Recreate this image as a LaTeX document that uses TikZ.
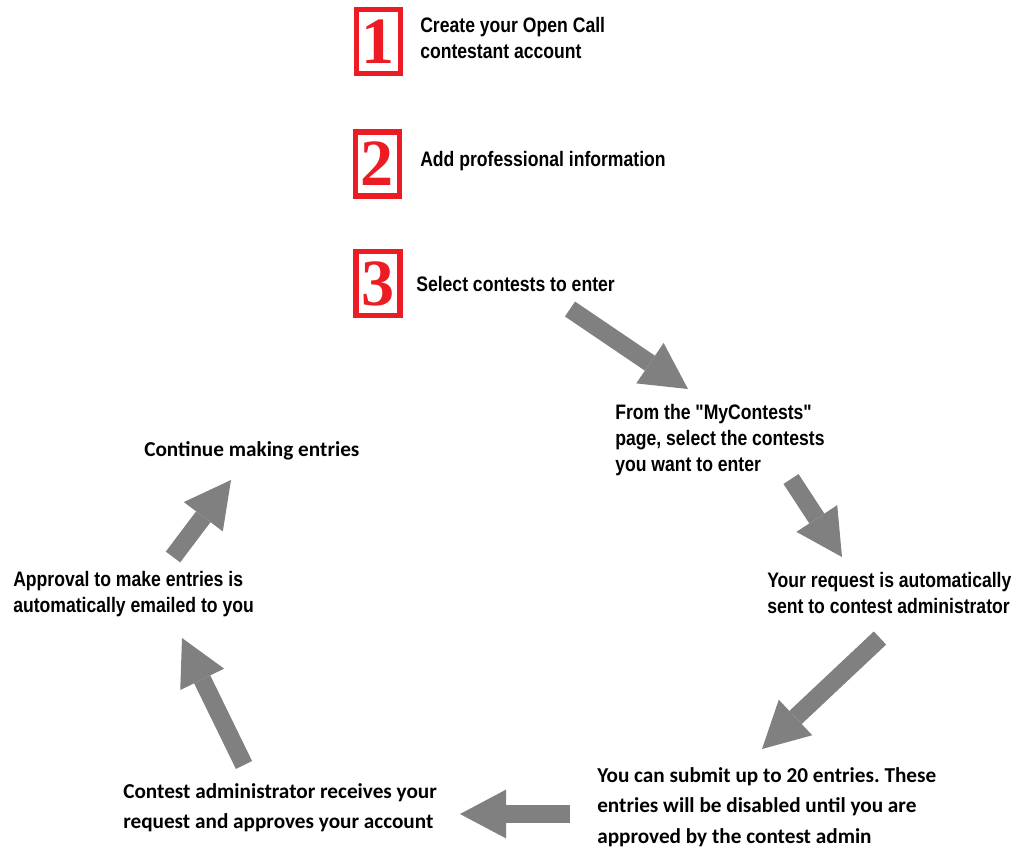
\documentclass[tikz,border=0pt]{standalone}
\usepackage{fontspec}
\usetikzlibrary{arrows.meta}
\newfontfamily\narrowfont[FakeStretch = 0.84]{Liberation Sans}
\newfontfamily\calfont{Carlito}
\newfontfamily\digitfont{Liberation Serif}
\definecolor{stepred}{HTML}{ED1C24}
\definecolor{arrowgray}{HTML}{808080}
\frenchspacing

\begin{document}
\begin{tikzpicture}[x = 0.25mm, y = -0.25mm,
        numbox/.style = {draw = stepred, line width = 1.375mm, minimum width = 10.9mm, minimum height = 16.1mm,
            inner sep = 0pt, text = stepred, font = \digitfont\bfseries\fontsize{47}{47}\selectfont},
        narrowtext/.style = {anchor = west, align = left, inner sep = 0pt,
            font = \narrowfont\bfseries\fontsize{14.9}{18.5}\selectfont},
        caltext/.style = {anchor = west, align = left, inner sep = 0pt,
            font = \calfont\bfseries\fontsize{15.1}{21.5}\selectfont},
        blockarrow/.style = {draw = arrowgray, line width = 4.5mm,
            -{Triangle[length = 11.5mm, width = 12.2mm, line width = 0pt]}}]
    \useasboundingbox (0,0) rectangle (1015,853);
    % numbered steps
    \node[numbox] (one) at (378.5,41.5) {1};
    \node[numbox] (two) at (377.5,164) {2};
    \node[numbox] (three) at (378,283.5) {3};
    \node[narrowtext] (create) at (420,38) {Create your Open Call\\contestant account};
    \node[narrowtext] (profinfo) at (420,161) {Add professional information};
    \node[narrowtext] (select) at (416,284) {Select contests to enter};
    % the cycle
    \node[narrowtext] (mycontests) at (615,440) {From the "MyContests"\\page, select the contests\\you want to enter};
    \node[narrowtext] (request) at (767,593) {Your request is automatically\\sent to contest administrator};
    \node[caltext] (submit) at (597,807) {You can submit up to 20 entries. These\\entries will be disabled until you are\\approved by the contest admin};
    \node[caltext] (approve) at (123,808) {Contest administrator receives your\\request and approves your account};
    \node[narrowtext] (emailed) at (13,594) {Approval to make entries is\\automatically emailed to you};
    \node[caltext] (continue) at (144,451) {Continue making entries};
    % arrow ends
    \coordinate (a1) at (570,309);
    \coordinate (b1) at (688,389);
    \coordinate (a2) at (791,479);
    \coordinate (b2) at (842,557);
    \coordinate (a3) at (880,638);
    \coordinate (b3) at (762,749);
    \coordinate (a4) at (570,814);
    \coordinate (b4) at (460,814);
    \coordinate (a5) at (244,765);
    \coordinate (b5) at (182,638);
    \coordinate (a6) at (173,557);
    \coordinate (b6) at (231,480);
    \draw[blockarrow] (a1) -- (b1);
    \draw[blockarrow] (a2) -- (b2);
    \draw[blockarrow] (a3) -- (b3);
    \draw[blockarrow] (a4) -- (b4);
    \draw[blockarrow] (a5) -- (b5);
    \draw[blockarrow] (a6) -- (b6);
\end{tikzpicture}
\end{document}
